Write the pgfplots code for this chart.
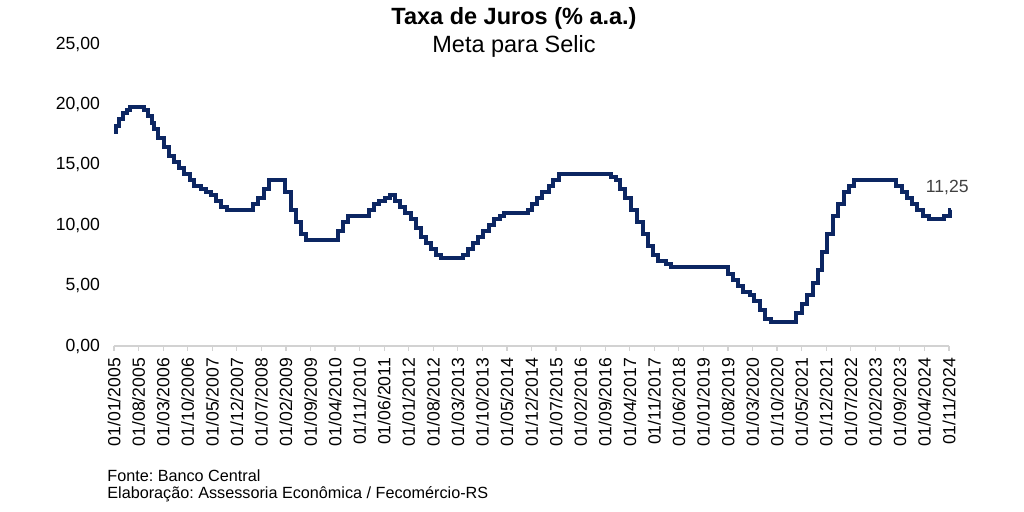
\documentclass[border=0pt]{standalone}
\usepackage{pgfplots}
\pgfplotsset{compat=1.18}
\usepackage{fontspec}
\setmainfont{Liberation Sans}
\frenchspacing
\definecolor{selic}{RGB}{12,38,98}
\definecolor{axgray}{RGB}{210,210,210}
\definecolor{lblgray}{RGB}{64,64,64}
\begin{document}
\begin{tikzpicture}
\path[use as bounding box] (0,0) rectangle (512pt,256pt);
\begin{axis}[
  at={(57pt,83pt)}, anchor=origin,
  scale only axis, width=417.5pt, height=151pt,
  xmin=0, xmax=238, ymin=0, ymax=25,
  axis x line*=bottom, axis y line*=left,
  x axis line style={draw=axgray, line width=0.6pt},
  y axis line style={draw=none},
  xtick={0,7,...,238},
  xticklabels={01/01/2005,01/08/2005,01/03/2006,01/10/2006,01/05/2007,01/12/2007,01/07/2008,01/02/2009,01/09/2009,01/04/2010,01/11/2010,01/06/2011,01/01/2012,01/08/2012,01/03/2013,01/10/2013,01/05/2014,01/12/2014,01/07/2015,01/02/2016,01/09/2016,01/04/2017,01/11/2017,01/06/2018,01/01/2019,01/08/2019,01/03/2020,01/10/2020,01/05/2021,01/12/2021,01/07/2022,01/02/2023,01/09/2023,01/04/2024,01/11/2024},
  xtick align=outside, major tick length=2.5pt,
  xtick style={draw=axgray, line width=0.6pt},
  ytick={0,5,...,25},
  ytick style={draw=none},
  /pgf/number format/assume math mode=true,
  yticklabel={\pgfmathprintnumber[fixed,fixed zerofill,precision=2,use comma]{\tick}},
  yticklabel style={font=\fontsize{8.8}{10}\selectfont, xshift=-3.5pt},
  xticklabel style={font=\fontsize{8.8}{10}\selectfont, rotate=90, anchor=east},
  clip=false,
]
\addplot[const plot, color=selic, line width=2pt] coordinates {
(0,17.75) (0.58,18.25) (1.54,18.75) (2.48,19.25) (3.63,19.50) (4.55,19.75)
(8.43,19.50) (9.58,19.00) (10.73,18.50) (11.42,18.00)
(12.55,17.25) (14.23,16.50) (15.60,15.75) (16.97,15.25) (18.58,14.75) (19.94,14.25) (21.55,13.75) (22.93,13.25)
(24.74,13.00) (26.19,12.75) (27.57,12.50) (29.17,12.00) (30.55,11.50) (32.13,11.25)
(39.50,11.75) (41.10,12.25) (42.71,13.00) (44.30,13.75)
(48.65,12.75) (50.32,11.25) (51.93,10.25) (53.30,9.25) (54.68,8.75)
(63.90,9.50) (65.27,10.25) (66.65,10.75)
(72.58,11.25) (74.03,11.75) (75.63,12.00) (77.23,12.25) (78.61,12.50) (79.97,12.00) (81.58,11.50) (82.97,11.00)
(84.55,10.50) (86.19,9.75) (87.57,9.00) (88.94,8.50) (90.32,8.00) (91.90,7.50) (93.29,7.25)
(99.53,7.50) (100.90,8.00) (102.29,8.50) (103.87,9.00) (105.26,9.50) (106.87,10.00)
(108.45,10.50) (109.89,10.75) (111.03,11.00) (117.90,11.25) (119.06,11.75)
(120.65,12.25) (122.10,12.75) (123.93,13.25) (125.07,13.75) (126.90,14.25)
(141.58,14.00) (142.97,13.75)
(144.32,13.00) (145.75,12.25) (147.37,11.25) (148.97,10.25) (150.81,9.25) (152.17,8.25) (153.77,7.50) (155.17,7.00)
(157.21,6.75) (158.65,6.50)
(174.97,6.00) (176.57,5.50) (177.94,5.00) (179.33,4.50)
(181.14,4.25) (182.55,3.75) (184.16,3.00) (185.53,2.25) (187.13,2.00)
(194.52,2.75) (196.13,3.50) (197.50,4.25) (199.10,5.25) (200.70,6.25) (201.84,7.75) (203.23,9.25)
(205.04,10.75) (206.48,11.75) (208.10,12.75) (209.47,13.25) (211.06,13.75)
(223.03,13.25) (224.63,12.75) (226.00,12.25) (227.40,11.75)
(228.97,11.25) (230.61,10.75) (232.23,10.50) (236.57,10.75) (238.17,11.25) (238.35,11.25)
};
\node[anchor=south, text=lblgray, font=\fontsize{8.8}{10}\selectfont, yshift=4pt] at (axis cs:237.5,11.25) {11,25};
\end{axis}
\node[font=\fontsize{11.75}{13}\selectfont\bfseries] at (257pt,247pt) {Taxa de Juros (\% a.a.)};
\node[font=\fontsize{11.75}{13}\selectfont] at (257pt,233pt) {Meta para Selic};
\node[anchor=west, inner sep=0pt, font=\fontsize{8.1}{9}\selectfont] at (53.5pt,18pt) {Fonte: Banco Central};
\node[anchor=west, inner sep=0pt, font=\fontsize{8.1}{9}\selectfont] at (53.5pt,9pt) {Elaboração: Assessoria Econômica / Fecomércio-RS};
\end{tikzpicture}
\end{document}
